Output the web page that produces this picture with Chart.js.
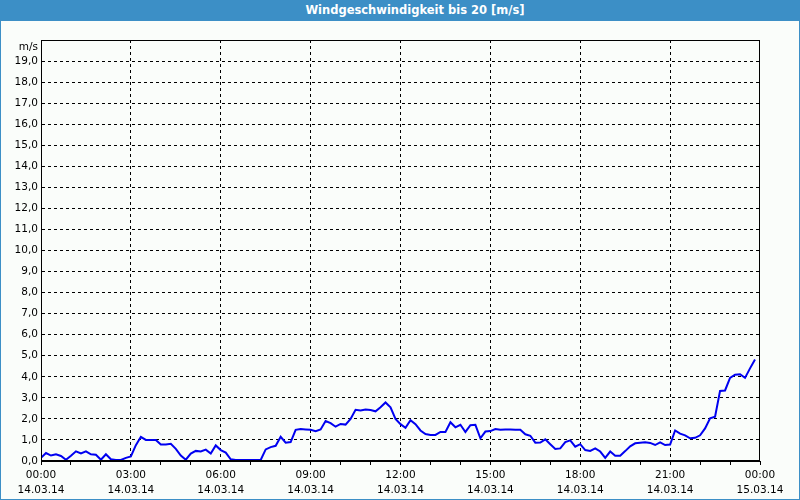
<!DOCTYPE html>
<html><head><meta charset="utf-8">
<script src="https://cdn.jsdelivr.net/npm/chart.js@4.4.0/dist/chart.umd.min.js"></script>
<style>
html,body{margin:0;padding:0;}
body{width:800px;height:500px;position:relative;background:#fafdfa;overflow:hidden;}
#frame{position:absolute;left:0;top:0;width:798px;height:498px;border:1px solid #3c8fc6;}
#title{position:absolute;left:0;top:0;width:770px;padding-left:30px;height:21px;background:#3c8fc6;color:#fff;font:bold 11.5px "DejaVu Sans";text-align:center;line-height:21px;}
canvas{position:absolute;left:0;top:0;}
</style></head>
<body>
<div id="frame"></div>
<div id="title">Windgeschwindigkeit bis 20 [m/s]</div>
<canvas id="c" width="800" height="500"></canvas>
<script>
// 10-minute samples starting 14.03.14 00:00
const sampleMinutes = 10;
const windSpeed = [
  0.15,0.38,0.26,0.32,0.24,0.06,0.25,0.46,0.36,0.46,0.32,0.30,0.06,0.32,0.08,0.05,0.05,0.15,0.22,
  0.75,1.15,1.00,1.00,1.00,0.78,0.78,0.82,0.58,0.26,0.06,0.35,0.48,0.45,0.54,0.35,0.74,0.52,0.40,
  0.08,0.05,0.05,0.05,0.05,0.05,0.05,0.55,0.66,0.72,1.15,0.87,0.90,1.48,1.52,1.50,1.48,1.42,
  1.50,1.90,1.80,1.63,1.76,1.73,2.00,2.43,2.40,2.45,2.42,2.36,2.55,2.78,2.55,2.00,1.75,1.58,
  1.94,1.75,1.45,1.28,1.24,1.24,1.38,1.38,1.84,1.60,1.72,1.38,1.70,1.72,1.08,1.40,1.42,1.52,
  1.48,1.50,1.50,1.48,1.48,1.27,1.20,0.87,0.88,1.03,0.80,0.57,0.60,0.90,0.98,0.68,0.80,0.52,
  0.48,0.60,0.45,0.15,0.45,0.25,0.25,0.47,0.70,0.84,0.87,0.89,0.86,0.76,0.89,0.76,0.78,1.45,
  1.30,1.22,1.08,1.10,1.22,1.55,2.03,2.10,3.33,3.35,3.95,4.10,4.12,3.95,4.40,4.82
];
const timeLabels = ["00:00","03:00","06:00","09:00","12:00","15:00","18:00","21:00","00:00"];
const dateLabels = ["14.03.14","14.03.14","14.03.14","14.03.14","14.03.14","14.03.14","14.03.14","14.03.14","15.03.14"];
const yUnitLabel = "m/s";

const points = windSpeed.map((v,i)=>({x:i*sampleMinutes, y:v}));
const font = {family:'"DejaVu Sans", sans-serif', size:10.5, lineHeight:1.5};

const framePlugin = {
  id:'frame',
  afterDraw(chart){
    const {ctx, chartArea:a} = chart;
    ctx.save();
    ctx.strokeStyle='#000';
    ctx.lineWidth=1;
    ctx.strokeRect(Math.round(a.left)+0.5, Math.round(a.top)+0.5, Math.round(a.right-a.left)-1, Math.round(a.bottom-a.top)-1);
    ctx.fillStyle='#000';
    ctx.font = '10.5px "DejaVu Sans", sans-serif';
    ctx.textAlign='right';
    ctx.textBaseline='middle';
    ctx.fillText(yUnitLabel, a.left-3, a.top+7);
    ctx.restore();
  }
};

new Chart(document.getElementById('c'), {
  type:'line',
  data:{datasets:[{data:points, borderColor:'#0000f0', borderWidth:2, pointRadius:0, tension:0, fill:false}]},
  options:{
    responsive:false, animation:false,
    layout:{padding:{top:40,right:40,left:0,bottom:0}},
    plugins:{legend:{display:false}, tooltip:{enabled:false}},
    scales:{
      x:{type:'linear', min:0, max:1440,
        afterFit(s){ s.height = 39; },
        ticks:{stepSize:60, autoSkip:false, maxRotation:0, color:'#000', font, padding:2,
          callback:(v)=> v%180===0 ? [timeLabels[v/180], dateLabels[v/180]] : ''},
        grid:{color:(c)=> (c.tick && c.tick.value%180===0 && c.tick.value>0 && c.tick.value<1440) ? '#000' : 'rgba(0,0,0,0)',
          tickColor:'#000', tickLength:4, lineWidth:1},
        border:{display:true, color:'#000', width:1, dash:[3,3]}
      },
      y:{min:0, max:20,
        afterFit(s){ s.width = 41; },
        ticks:{stepSize:1, color:'#000', font, padding:3,
          callback:(v)=> v===20 ? '' : v.toFixed(1).replace('.',',')},
        grid:{color:(c)=> (c.tick && c.tick.value>0 && c.tick.value<20) ? '#000' : 'rgba(0,0,0,0)',
          drawTicks:false, lineWidth:1},
        border:{display:true, color:'#000', width:1, dash:[3,3]}
      }
    }
  },
  plugins:[framePlugin]
});
</script>
</body></html>
